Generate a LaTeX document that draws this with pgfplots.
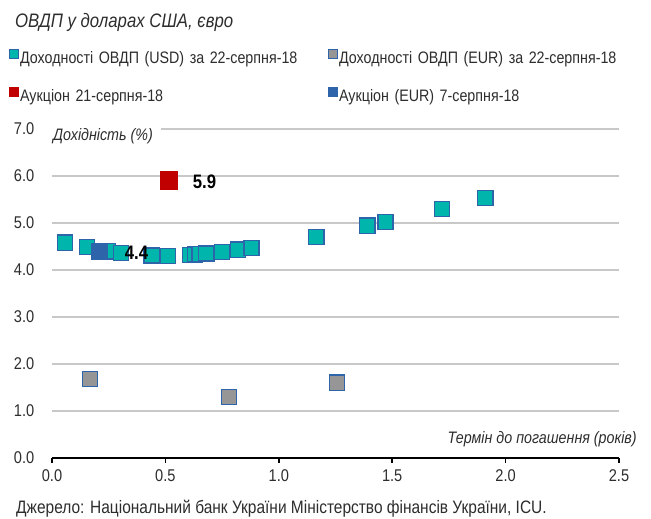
\documentclass[border=0pt]{standalone}
\usepackage{fontspec}
\setmainfont{Liberation Sans}[FakeStretch=0.86]
\usepackage{pgfplots}
\pgfplotsset{compat=1.18}
\definecolor{tealf}{RGB}{0,181,172}
\definecolor{edgeb}{RGB}{46,100,170}
\definecolor{greyf}{RGB}{150,150,150}
\definecolor{redf}{RGB}{192,0,0}
\definecolor{bluef}{RGB}{46,100,170}
\definecolor{gridc}{RGB}{200,200,200}
\definecolor{txt}{RGB}{45,45,45}
\newcommand{\lf}{\fontsize{16.6}{19}\selectfont}
\begin{document}
\begin{tikzpicture}
\lf
\path[use as bounding box] (0pt,0pt) rectangle (651pt,519pt);
\node[anchor=base west, text=txt, inner sep=0pt] at (15pt,491pt) {\fontsize{19.5}{22}\selectfont\itshape ОВДП у доларах США, євро};
\node[anchor=base west, text=txt, inner sep=0pt] at (16pt,5pt) {\fontsize{18}{21}\selectfont Джерело: Національний банк України Міністерство фінансів України, ICU.};
\begin{axis}[
  at={(52pt,61pt)}, anchor=south west,
  scale only axis, width=567pt, height=329pt,
  xmin=0, xmax=2.5, ymin=0, ymax=7,
  xtick={0,0.5,1,1.5,2,2.5}, ytick={0,1,2,3,4,5,6,7},
  /pgf/number format/.cd, fixed, fixed zerofill, precision=1, assume math mode=true,
  /pgfplots/.cd,
  axis x line*=bottom, axis y line*=left,
  x axis line style={-, black, line width=2pt},
  y axis line style={draw=none},
  ytick style={draw=none},
  xtick style={black, line width=1.5pt},
  tick align=outside, major tick length=5pt,
  ymajorgrids, major grid style={gridc, line width=1.8pt},
  ticklabel style={text=txt, font=\fontsize{17}{19}\selectfont},
  yticklabel style={xshift=-7pt},
  xticklabel style={yshift=-1pt},
  clip=false,
  legend columns=2,
  legend style={at={(axis description cs:-0.076,1.242)}, anchor=north west, draw=none, fill=none,
    inner sep=0pt, column sep=0pt, row sep=21pt,
    font=\lf, text=txt,
    nodes={text width=306pt, inner xsep=2pt, inner ysep=0pt, align=left}},
  legend cell align=left,
  legend image code/.code={\draw[#1,mark size=4.5pt,line width=1pt] plot coordinates {(0pt,5pt)};},
]
\addplot[only marks, mark=square*, draw=edgeb, fill=tealf, mark size=7.6pt, line width=1.5pt] coordinates {
(0.057,4.58) (0.154,4.49) (0.247,4.40) (0.304,4.36) (0.44,4.31) (0.51,4.30)
(0.61,4.32) (0.63,4.33) (0.65,4.34) (0.68,4.35) (0.75,4.38) (0.82,4.43) (0.88,4.47)
(1.165,4.70) (1.39,4.94) (1.47,5.02) (1.72,5.30) (1.91,5.53)};
\addlegendentry{Доходності ОВДП (USD) за 22-серпня-18}
\addplot[only marks, mark=square*, draw=edgeb, fill=greyf, mark size=7.6pt, line width=1.5pt] coordinates {
(0.168,1.68) (0.78,1.30) (1.257,1.60)};
\addlegendentry{Доходності ОВДП (EUR) за 22-серпня-18}
\addplot[only marks, mark=square*, draw=redf, fill=redf, mark size=8.7pt, line width=0.5pt] coordinates {(0.516,5.91)};
\addlegendentry{Аукціон 21-серпня-18}
\addplot[only marks, mark=square*, draw=bluef, fill=bluef, mark size=8pt, line width=0.5pt] coordinates {(0.21,4.40)};
\addlegendentry{Аукціон (EUR) 7-серпня-18}
\addplot[forget plot, only marks, mark=none, nodes near coords, point meta=explicit symbolic,
  nodes near coords style={anchor=west, inner sep=0pt, text=black, font=\bfseries\fontsize{19.5}{22}\selectfont}]
  coordinates {(0.62,5.88)[5.9] (0.32,4.36)[4.4]};
\node[anchor=north west, fill=white, inner ysep=2pt, inner xsep=0pt, text=txt] at (axis cs:0,7.06) {\hspace*{1pt}\itshape Дохідність (\%)\hspace*{8pt}};
\node[anchor=base east, inner sep=0pt, text=txt] at (axis cs:2.579,0.30) {\itshape Термін до погашення (років)};
\end{axis}
\end{tikzpicture}
\end{document}
